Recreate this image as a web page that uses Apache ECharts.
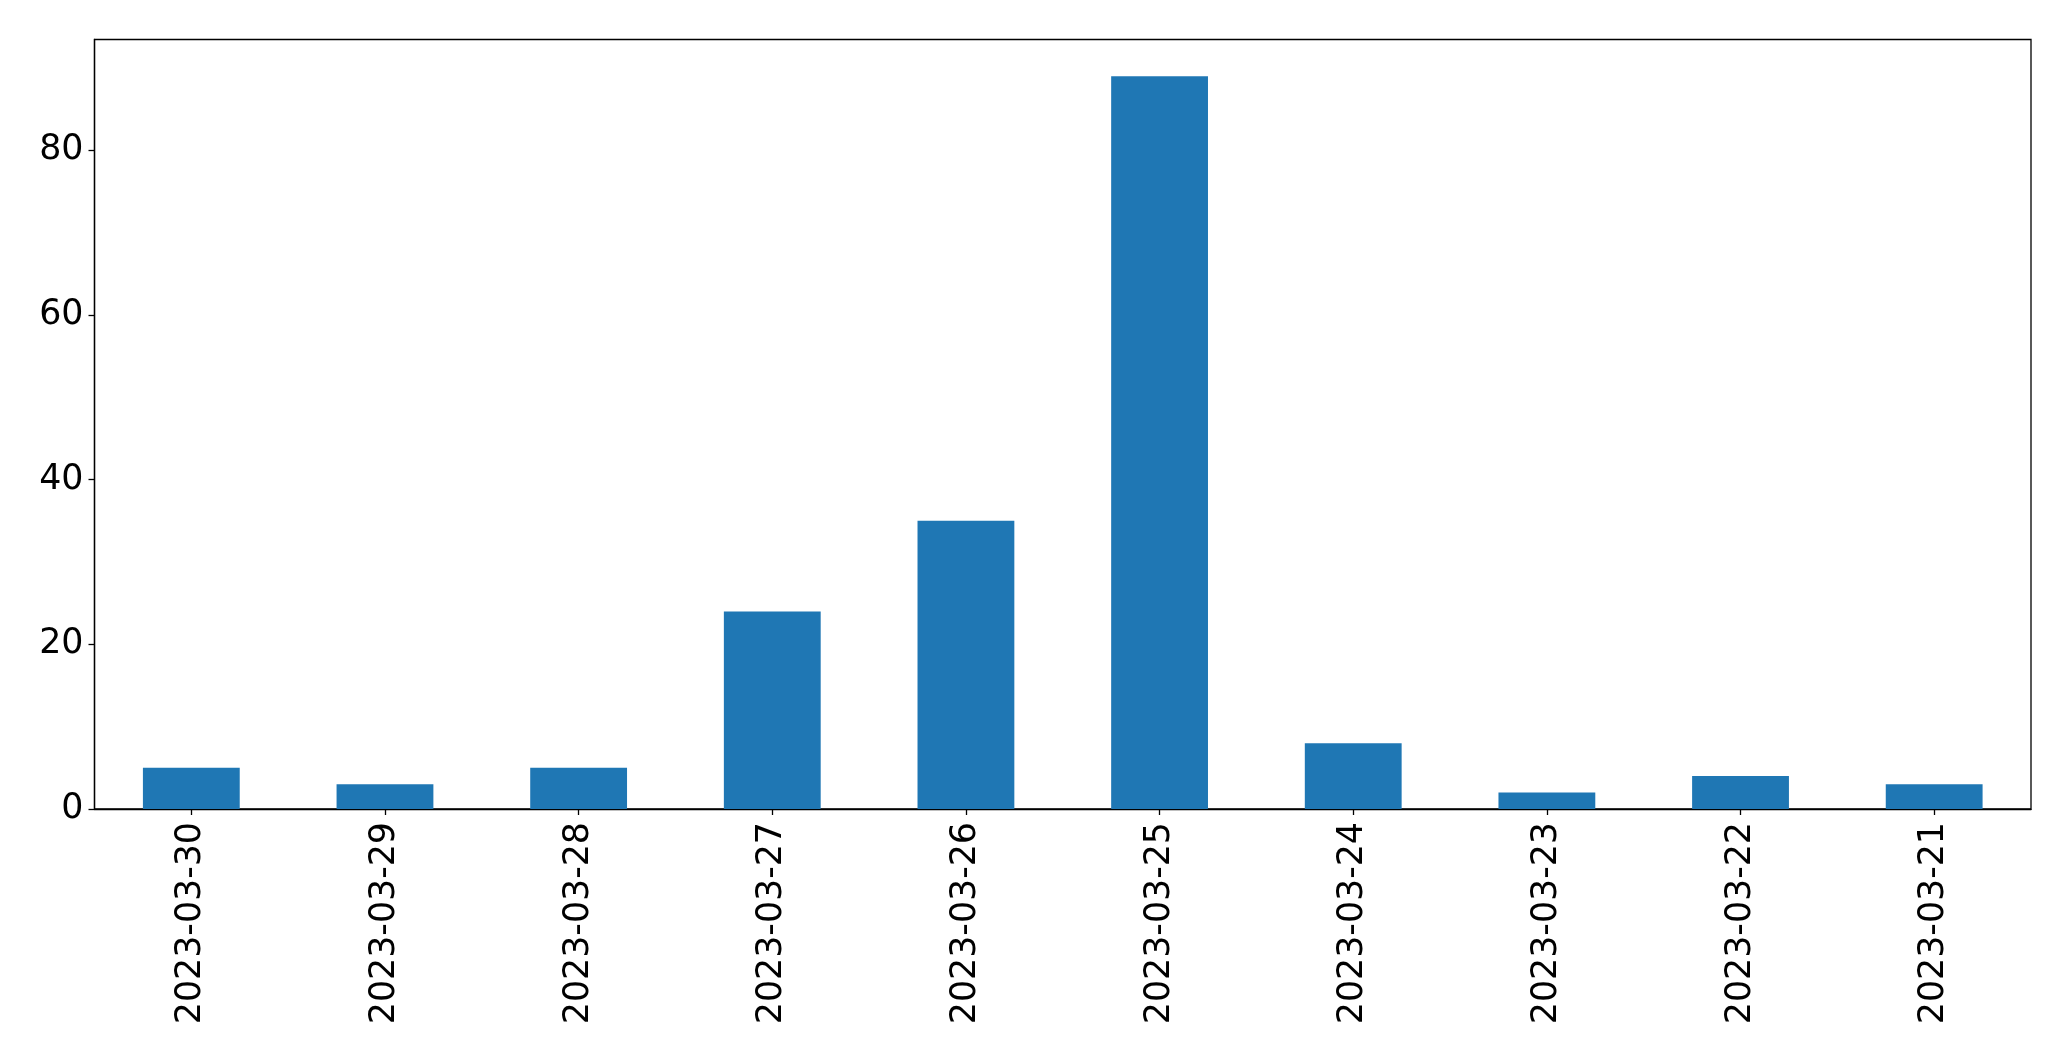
<!DOCTYPE html>
<html>
<head>
<meta charset="utf-8">
<script src="https://cdn.jsdelivr.net/npm/echarts@6/dist/echarts.min.js"></script>
<style>
html,body{margin:0;padding:0;background:#fff;}
#chart{width:2071px;height:1061px;}
</style>
</head>
<body>
<div id="chart"></div>
<script>
const categories = ["2023-03-30","2023-03-29","2023-03-28","2023-03-27","2023-03-26","2023-03-25","2023-03-24","2023-03-23","2023-03-22","2023-03-21"];
const values = [5, 3, 5, 24, 35, 89, 8, 2, 4, 3];
const yTicks = [0, 20, 40, 60, 80];
const yMax = 93.45;

const font = "DejaVu Sans";
const chart = echarts.init(document.getElementById('chart'), null, {renderer: 'canvas'});
chart.setOption({
  animation: false,
  backgroundColor: '#ffffff',
  grid: {
    left: 94.5, right: 40, top: 39.5, bottom: 252,
    show: true, borderColor: '#000', borderWidth: 1.3, backgroundColor: 'transparent',
    containLabel: false
  },
  xAxis: {
    type: 'category',
    data: categories,
    axisLine: {show: true, lineStyle: {color: '#000', width: 1.3}},
    axisTick: {show: true, alignWithLabel: true, length: 6, lineStyle: {color: '#000', width: 1.3}},
    axisLabel: {rotate: 90, margin: 13, fontFamily: font, fontSize: 34.8, color: '#000', interval: 0},
    splitLine: {show: false}
  },
  yAxis: {
    type: 'value',
    min: 0, max: yMax,
    axisLine: {show: true, lineStyle: {color: '#000', width: 1.3}},
    axisTick: {show: true, length: 6, lineStyle: {color: '#000', width: 1.3}, customValues: yTicks},
    axisLabel: {margin: 11, fontFamily: font, fontSize: 34.8, color: '#000', customValues: yTicks},
    splitLine: {show: false}
  },
  series: [{
    type: 'bar',
    data: values,
    barWidth: '50%',
    itemStyle: {color: '#1f77b4'}
  }]
});
</script>
</body>
</html>
